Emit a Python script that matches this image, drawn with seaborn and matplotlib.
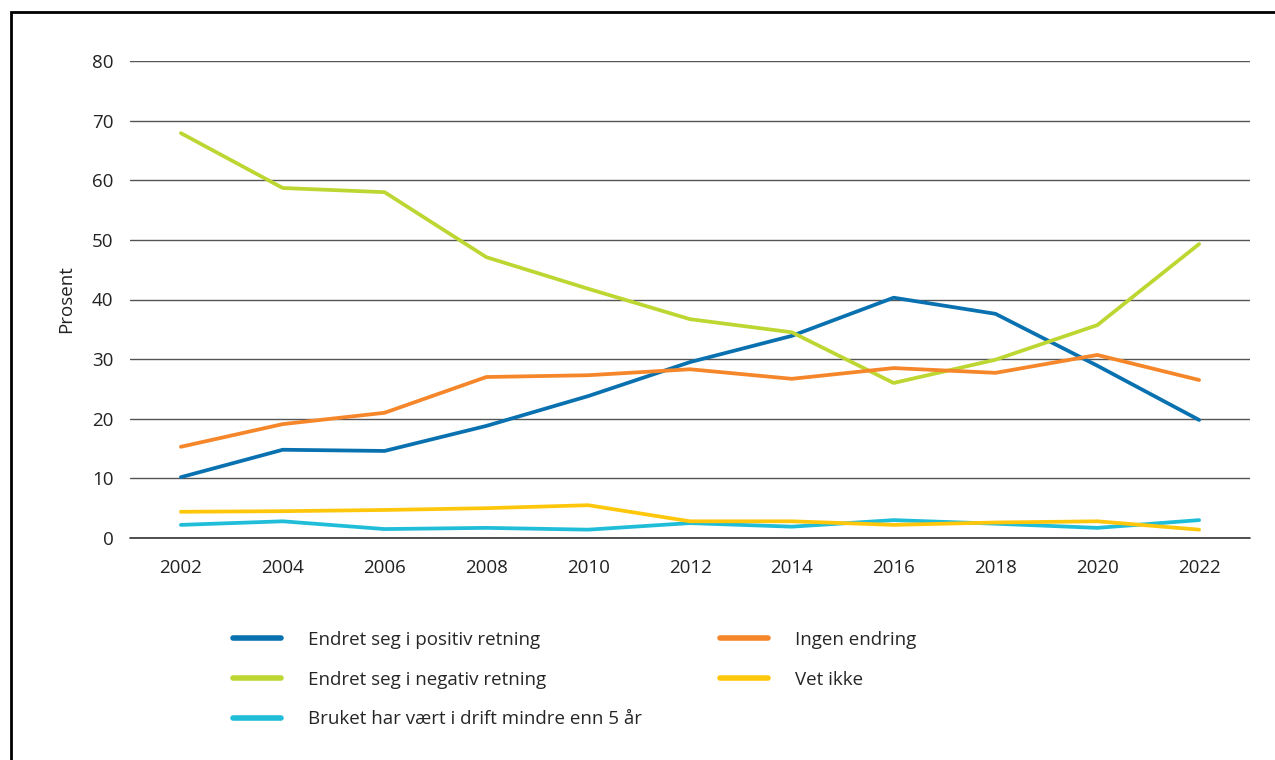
import pandas as pd
import seaborn as sns
import matplotlib.pyplot as plt
from matplotlib.patches import Rectangle

years = [2002, 2004, 2006, 2008, 2010, 2012, 2014, 2016, 2018, 2020, 2022]

positiv = [10.2, 14.8, 14.6, 18.8, 23.8, 29.5, 33.9, 40.3, 37.6, 28.9, 19.8]
ingen = [15.3, 19.1, 21.0, 27.0, 27.3, 28.3, 26.7, 28.5, 27.7, 30.7, 26.5]
negativ = [67.9, 58.7, 58.0, 47.1, 41.8, 36.7, 34.5, 26.0, 29.9, 35.7, 49.3]
vet_ikke = [4.4, 4.5, 4.7, 5.0, 5.5, 2.8, 2.8, 2.2, 2.6, 2.8, 1.4]
under_5 = [2.2, 2.8, 1.5, 1.7, 1.4, 2.5, 1.9, 3.0, 2.4, 1.7, 3.0]

series = {
    "Endret seg i positiv retning": positiv,
    "Endret seg i negativ retning": negativ,
    "Bruket har vært i drift mindre enn 5 år": under_5,
    "Ingen endring": ingen,
    "Vet ikke": vet_ikke,
}
colors = {
    "Endret seg i positiv retning": "#0a71b0",
    "Endret seg i negativ retning": "#bdd632",
    "Bruket har vært i drift mindre enn 5 år": "#1fbdd8",
    "Ingen endring": "#f5862a",
    "Vet ikke": "#ffc70b",
}

rows = []
for name, vals in series.items():
    for y, v in zip(years, vals):
        rows.append({"År": y, "Prosent": v, "Serie": name})
df = pd.DataFrame(rows)

sns.set_style("white")
plt.rcParams['font.family'] = ['Open Sans', 'DejaVu Sans']
fs = 13.5

fig = plt.figure(figsize=(12.75, 7.6), dpi=100)
ax = fig.add_axes([130 / 1275, 1 - 538 / 760, 1120 / 1275, 477 / 760])

sns.lineplot(data=df, x="År", y="Prosent", hue="Serie", hue_order=list(series.keys()),
             palette=colors, linewidth=2.7, ax=ax, legend=False, zorder=3)

ax.set_xlim(2001, 2023)
ax.set_ylim(0, 80)
ax.set_xticks(years)
ax.set_yticks(range(0, 81, 10))
ax.grid(axis='y', color='#555555', linewidth=1.0)
ax.grid(axis='x', visible=False)
ax.axhline(0, color='#333333', linewidth=1.2, clip_on=False, zorder=1)
for s in ax.spines.values():
    s.set_visible(False)
ax.tick_params(axis='both', length=0, labelsize=fs, colors='#222222')
ax.tick_params(axis='y', pad=12)
ax.tick_params(axis='x', pad=15)
ax.set_xlabel("")
ax.set_ylabel("Prosent", fontsize=fs, color='#222222', labelpad=12)

handles = [plt.Line2D([], [], color=colors[n], linewidth=4, solid_capstyle='round') for n in series]
fig.legend(handles, list(series.keys()), ncol=2, frameon=False,
           loc='upper left', bbox_to_anchor=(233 / 1275, 1 - 631 / 760),
           borderpad=0, borderaxespad=0, handlelength=2.56, handletextpad=1.44,
           columnspacing=4.17, labelspacing=1.15, fontsize=fs)

# frame around the figure (cut at right and bottom as in the source)
fig.patches.append(Rectangle((11 / 1275, -0.1), 1.2, 1 - 12 / 760 + 0.1,
                             transform=fig.transFigure, fill=False,
                             edgecolor='black', linewidth=2))

fig.savefig("out.png", dpi=100)
